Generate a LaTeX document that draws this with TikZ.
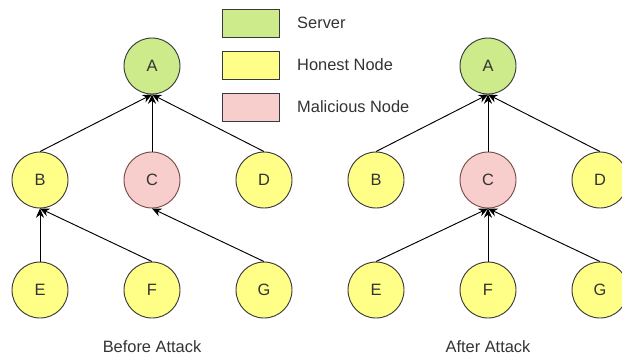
\documentclass[tikz,border=0pt]{standalone}
\usepackage{fontspec}
\setmainfont{Liberation Sans}
\usetikzlibrary{arrows.meta}
\definecolor{srvfill}{HTML}{CDEB8B}
\definecolor{honfill}{HTML}{FFFF88}
\definecolor{malfill}{HTML}{F8CECC}
\definecolor{darkline}{HTML}{36393D}
\definecolor{malline}{HTML}{7A4A48}
\definecolor{labeltext}{HTML}{333333}
\begin{document}
\begin{tikzpicture}[x=0.03cm,y=-0.03cm,font=\fontsize{14}{16}\selectfont,text=labeltext]

  \useasboundingbox (0,0) rectangle (622,358);
  \tikzset{peer/.style={circle,draw=darkline,line width=0.8pt,minimum size=1.68cm,inner sep=0pt},
    srv/.style={peer,fill=srvfill},
    hon/.style={peer,fill=honfill},
    mal/.style={peer,fill=malfill,draw=malline},
    link/.style={->,>={Stealth[length=8pt,width=7pt]},line width=0.8pt},
    keybox/.style={draw=darkline,line width=0.8pt,minimum width=1.71cm,minimum height=0.84cm,inner sep=0pt}}
  % the two trees
  \foreach \t/\x in {l/152,r/488} {
    \node[srv] (\t A) at (\x,66) {A};
    \node[hon] (\t B) at (\x-112,180) {B};
    \node[mal] (\t C) at (\x,180) {C};
    \node[hon] (\t D) at (\x+112,180) {D};
    \node[hon] (\t E) at (\x-112,290) {E};
    \node[hon] (\t F) at (\x,290) {F};
    \node[hon] (\t G) at (\x+112,290) {G};
    \foreach \c in {B,C,D} \draw[link] (\t\c.north) -- (\t A.south);
  }
  \draw[link] (lE.north) -- (lB.south);
  \draw[link] (lF.north) -- (lB.south);
  \draw[link] (lG.north) -- (lC.south);
  \foreach \c in {E,F,G} \draw[link] (r\c.north) -- (rC.south);
  \node (before) at (152,347) {Before Attack};
  \node (after) at (488,347) {After Attack};
  % legend
  \foreach \k/\y/\f/\txt in {server/23/srvfill/Server,honest/65/honfill/Honest Node,malicious/107/malfill/Malicious Node} {
    \node[keybox,fill=\f] (\k box) at (251,\y) {};
    \node[anchor=west,inner sep=0pt] (\k text) at (297,\y) {\txt};
  }
\end{tikzpicture}
\end{document}
